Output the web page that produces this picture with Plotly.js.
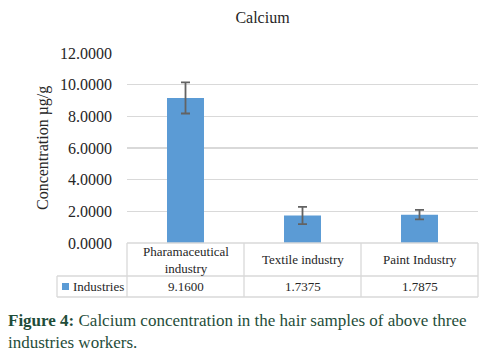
<!DOCTYPE html>
<html>
<head>
<meta charset="utf-8">
<script src="https://cdn.plot.ly/plotly-3.0.1.min.js"></script>
<style>
html,body{margin:0;padding:0;background:#fff;}
#chart{width:487px;height:357px;}
</style>
</head>
<body>
<div id="chart"></div>
<script>
const categories = ["Pharamaceutical<br>industry", "Textile industry", "Paint Industry"];
const values = [9.16, 1.7375, 1.7875];
const valueLabels = ["9.1600", "1.7375", "1.7875"];
const errors = [0.98, 0.55, 0.30];
const seriesName = "Industries";
const yTickVals = [0, 2, 4, 6, 8, 10, 12];
const yTickText = ["0.0000", "2.0000", "4.0000", "6.0000", "8.0000", "10.0000", "12.0000"];

const W = 487, H = 357;
const L = 127, R = 478, T = 53, B = 243;
const px = x => (x - L) / (R - L);
const py = y => (B - y) / (B - T);

const font = "'Liberation Serif', 'Times New Roman', serif";
const blue = "#5b9bd5";
const lineCol = "#d9d9d9";

const trace = {
  type: "bar",
  x: [0, 1, 2],
  y: values,
  name: seriesName,
  marker: {color: blue},
  error_y: {type: "data", array: errors, visible: true, color: "#636363", thickness: 1.8, width: 4.5},
  hoverinfo: "none"
};

const shapes = [];
function hline(y, x0, x1) {
  shapes.push({type: "line", xref: "paper", yref: "paper", x0: px(x0), x1: px(x1), y0: py(y), y1: py(y), line: {color: lineCol, width: 1.3}});
}
function vline(x, y0, y1) {
  shapes.push({type: "line", xref: "paper", yref: "paper", x0: px(x), x1: px(x), y0: py(y0), y1: py(y1), line: {color: lineCol, width: 1.3}});
}
hline(243, 127, 478);
hline(276, 57, 478);
hline(297, 57, 478);
vline(57, 276, 297);
vline(127, 243, 297);
vline(244, 243, 297);
vline(361, 243, 297);
vline(478, 243, 297);
shapes.push({type: "rect", xref: "paper", yref: "paper", x0: px(62), x1: px(69), y0: py(283), y1: py(290), fillcolor: blue, line: {width: 0}});

const annotations = [];
categories.forEach((c, i) => {
  annotations.push({xref: "x", yref: "paper", x: i, y: py(259.5), text: c, showarrow: false, xanchor: "center", yanchor: "middle", font: {family: font, size: 13, color: "#262626"}});
  annotations.push({xref: "x", yref: "paper", x: i, y: py(286.5), text: valueLabels[i], showarrow: false, xanchor: "center", yanchor: "middle", font: {family: font, size: 13, color: "#262626"}});
});
annotations.push({xref: "paper", yref: "paper", x: px(71), y: py(286.5), text: seriesName, showarrow: false, xanchor: "left", yanchor: "middle", font: {family: font, size: 13, color: "#262626"}});
annotations.push({xref: "paper", yref: "paper", x: px(43), y: py(148), text: "Concentration µg/g", textangle: -90, showarrow: false, xanchor: "center", yanchor: "middle", font: {family: font, size: 16, color: "#262626"}});
annotations.push({xref: "paper", yref: "paper", x: px(6), y: py(331.5), text: "<b>Figure 4:</b> Calcium concentration in the hair samples of above three<br>industries workers.", showarrow: false, xanchor: "left", yanchor: "middle", align: "left", font: {family: font, size: 17, color: "#1f4d3a"}});

const layout = {
  width: W, height: H,
  font: {family: font},
  margin: {l: L, r: W - R, t: T, b: H - B, pad: 0},
  paper_bgcolor: "#fff", plot_bgcolor: "#fff",
  showlegend: false,
  bargap: 0.684,
  title: {text: "Calcium", x: 262.5 / W, xanchor: "center", y: 1 - 17 / H, yanchor: "middle", yref: "container", font: {family: font, size: 16, color: "#262626"}},
  xaxis: {range: [-0.5, 2.5], showticklabels: false, showgrid: false, zeroline: false, showline: false, ticks: "", fixedrange: true},
  yaxis: {range: [0, 12], tickvals: yTickVals, ticktext: yTickText, showgrid: true, gridcolor: lineCol, gridwidth: 1.3, zeroline: false, showline: false, ticks: "", ticklabelstandoff: 14, tickfont: {family: font, size: 16, color: "#262626"}, fixedrange: true},
  shapes: shapes,
  annotations: annotations
};

Plotly.newPlot("chart", [trace], layout, {displayModeBar: false, staticPlot: true});
</script>
</body>
</html>
